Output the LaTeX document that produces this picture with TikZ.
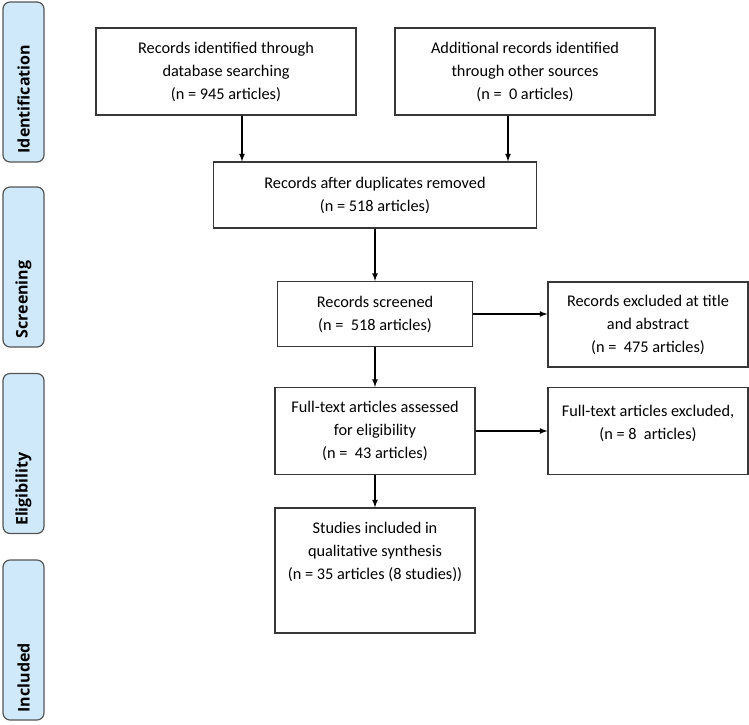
\documentclass[tikz,border=0pt]{standalone}
\usepackage{fontspec}
\setmainfont{Carlito}
\newfontfamily\phasefont{Open Sans}
\usetikzlibrary{arrows, calc}
\usepackage{xcolor}

\definecolor{phaseblue}{RGB}{207,233,251}
\definecolor{edgegray}{RGB}{55,55,55}

\tikzset{
	stage/.style={draw=edgegray, line width=1.2pt, rectangle, align=center, inner sep=0pt, font=\fontsize{16.3}{23}\selectfont},
	phase/.style={draw=edgegray!85, fill=phaseblue, line width=1.2pt, rounded corners=7pt, minimum width=41, minimum height=160},
	phaselabel/.style={rotate=90, anchor=west, inner sep=0pt, font=\phasefont\bfseries\fontsize{16}{18}\selectfont},
	flow/.style={-latex, line width=1.6pt},
}

\begin{document}
\begin{tikzpicture}[x=1pt,y=-1pt]

	\useasboundingbox (0,0) rectangle (749,724);

	% phases on the left
	\node [phase] (ident) at (23.5,82) {};
	\node [phase] (screen) at (23.5,267) {};
	\node [phase] (elig) at (23.5,453.5) {};
	\node [phase] (incl) at (23.5,640) {};

	\node [phaselabel] (identtxt) at ($(ident.south)+(0,-9)$) {Identification};
	\node [phaselabel] (screentxt) at ($(screen.south)+(0,-9)$) {Screening};
	\node [phaselabel] (eligtxt) at ($(elig.south)+(0,-8)$) {Eligibility};
	\node [phaselabel] (incltxt) at ($(incl.south)+(0,-8)$) {Included};

	% boxes
	\node [stage, minimum width=260, minimum height=87] (db) at (226,71.5)
		{Records identified through\\database searching\\(n = 945 articles)};
	\node [stage, minimum width=260, minimum height=87] (other) at (525,71.5)
		{Additional records identified\\through other sources\\(n = \ 0 articles)};
	\node [stage, minimum width=323, minimum height=66] (dup) at (375,195)
		{Records after duplicates removed\\(n = 518 articles)};
	\node [stage, minimum width=195, minimum height=65] (screened) at (375,314)
		{Records screened\\(n = \ 518 articles)};
	\node [stage, minimum width=200, minimum height=85] (excta) at (648,324.5)
		{Records excluded at title\\and abstract\\(n = \ 475 articles)};
	\node [stage, minimum width=200, minimum height=87] (fulltext) at (375,431)
		{Full-text articles assessed\\for eligibility\\(n = \ 43 articles)};
	\node [stage, minimum width=200, minimum height=87, text depth=18pt] (exclft) at (648,431)
		{Full-text articles excluded,\\(n = 8 \ articles)};
	\node [stage, minimum width=200, minimum height=125, text depth=39pt] (synth) at (375,570.5)
		{Studies included in\\qualitative synthesis\\(n = 35 articles (8 studies))};

	\coordinate (dbx) at (242,0);
	\coordinate (otherx) at (508,0);

	\draw [flow] (db.south -| dbx) -- (dup.north -| dbx);
	\draw [flow] (other.south -| otherx) -- (dup.north -| otherx);
	\draw [flow] (dup.south) -- (screened.north);
	\draw [flow] (screened.east) -- (screened.east -| excta.west);
	\draw [flow] (screened.south) -- (fulltext.north);
	\draw [flow] (fulltext.east) -- (exclft.west);
	\draw [flow] (fulltext.south) -- (synth.north);

\end{tikzpicture}
\end{document}
